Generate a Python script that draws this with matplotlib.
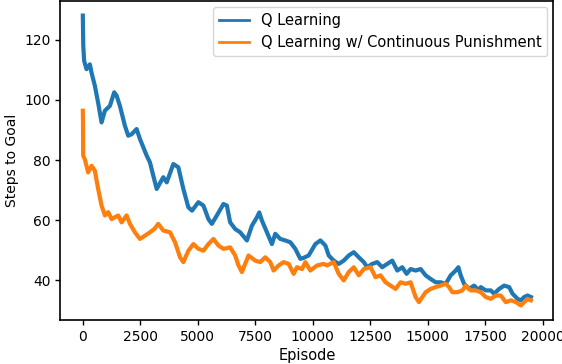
import matplotlib
matplotlib.use("Agg")
import matplotlib.pyplot as plt

q_episodes = [0, 20, 57, 160, 305, 380, 523, 667, 815, 960, 1177, 1365, 1470, 1613, 1831, 1975,
              2122, 2340, 2485, 2777, 2921, 3065, 3213, 3500, 3650, 3937, 4155, 4373, 4591,
              4750, 5027, 5245, 5463, 5611, 5829, 6117, 6265, 6409, 6627, 6845, 7137, 7355,
              7573, 7674, 7790, 8008, 8225, 8371, 8589, 8807, 9025, 9243, 9461, 9600, 9823,
              10115, 10333, 10551, 10696, 10913, 11131, 11349, 11567, 11785, 12003, 12221,
              12369, 12587, 12805, 13023, 13241, 13459, 13677, 13895, 14083, 14257, 14475,
              14693, 14911, 15129, 15347, 15565, 15783, 16001, 16219, 16335, 16437, 16582,
              16800, 17018, 17236, 17309, 17527, 17745, 17890, 18108, 18326, 18543, 18691,
              18909, 19053, 19197, 19343, 19489]
q_steps = [128, 118, 113, 110.2, 111.8, 109, 104.7, 99, 92.5, 96.4, 98, 102.5, 101.4, 98, 91.4,
           88.1, 88.6, 90.3, 87, 81.5, 79.2, 74.8, 70.4, 74.3, 72.6, 78.7, 77.6, 70.4, 64.3,
           63.2, 66, 64.9, 60.4, 58.8, 61.6, 65.4, 64.9, 59.3, 57.1, 56, 53.3, 58.2, 61,
           62.6, 59.9, 56, 52.1, 55.5, 53.8, 53.3, 52.7, 50.5, 47.2, 47.5, 48.3, 52.1, 53.3,
           51.6, 48.3, 46.6, 45.5, 46.6, 48.3, 49.4, 47.7, 46.1, 44.4, 45.5, 46.1, 44.4,
           45.5, 46.6, 43.3, 44.4, 42.2, 43.8, 43.3, 43.8, 41.7, 40.5, 39.4, 39.4, 38.9,
           41.7, 43.3, 44.4, 41.7, 38.9, 37.2, 38.3, 36.7, 37.8, 36.7, 36.7, 35.6, 37.2,
           38.3, 37.8, 35.6, 33.9, 33.4, 34.5, 35, 34.5]

p_episodes = [0, 8, 15, 87, 232, 380, 523, 667, 815, 960, 1104, 1250, 1395, 1540, 1686, 1905,
              2050, 2267, 2485, 2703, 2921, 3109, 3283, 3500, 3793, 4011, 4229, 4373, 4591,
              4809, 5027, 5245, 5463, 5681, 5899, 6117, 6409, 6627, 6771, 6918, 7207, 7499,
              7717, 7935, 8153, 8298, 8516, 8734, 8952, 9170, 9316, 9535, 9679, 9897, 10189,
              10477, 10624, 10913, 11131, 11349, 11567, 11785, 12003, 12221, 12514, 12732,
              12950, 13168, 13386, 13604, 13821, 14039, 14257, 14475, 14620, 14766, 14911,
              15129, 15347, 15565, 15783, 15928, 16074, 16292, 16510, 16655, 16873, 17091,
              17309, 17527, 17745, 17963, 18181, 18399, 18617, 18835, 19053, 19197, 19343,
              19489]
p_steps = [96.4, 92.5, 81.5, 80.3, 75.9, 78.1, 76.5, 70.4, 64.9, 61.6, 62.7, 60.4, 61, 61.6,
           59.3, 61.6, 58.8, 56, 53.8, 54.9, 56, 57.1, 58.8, 56.6, 56, 52.7, 47.7, 46.1, 49.9,
           52.1, 50.5, 49.9, 52.1, 53.8, 51.6, 50.5, 51, 48.3, 45, 42.8, 48.3, 46.6, 46.1,
           47.7, 46.1, 43.3, 45, 46.1, 45.5, 42.2, 44.4, 43.8, 46.1, 43.3, 45, 45.5, 45,
           46.1, 42.2, 40, 42.8, 44.4, 41.7, 43.8, 44.4, 41.1, 41.7, 39.4, 38.3, 37.2, 39.4,
           38.9, 39.4, 34.5, 32.8, 34.5, 36.1, 37.2, 37.8, 38.3, 38.9, 37.8, 36.1, 36.1,
           36.7, 38.3, 36.7, 36.7, 36.1, 34.5, 33.9, 35, 35, 32.8, 33.4, 32.8, 31.7, 32.8,
           33.9, 33.4]

x_ticks = [0, 2500, 5000, 7500, 10000, 12500, 15000, 17500, 20000]
y_ticks = [40, 60, 80, 100, 120]

fig = plt.figure(figsize=(5.62, 3.64), dpi=100)
ax = fig.add_axes([0.1075, 0.121, 0.877, 0.876])
ax.plot(q_episodes, q_steps, color="#1f77b4", lw=3.0, label="Q Learning")
ax.plot(p_episodes, p_steps, color="#ff7f0e", lw=3.0,
        label="Q Learning w/ Continuous Punishment")
ax.set_xticks(x_ticks)
ax.set_yticks(y_ticks)
ax.tick_params(labelsize=10, length=3.5, width=1.0)
ax.set_xlabel("Episode", fontsize=10.5, labelpad=3)
ax.set_ylabel("Steps to Goal", fontsize=10)
for s in ax.spines.values():
    s.set_linewidth(1.2)
leg = ax.legend(loc="upper right", fontsize=10.5, handlelength=2.1,
                borderaxespad=0.4)
for line in leg.get_lines():
    line.set_linewidth(2.0)
fig.savefig("out.png", dpi=100)
